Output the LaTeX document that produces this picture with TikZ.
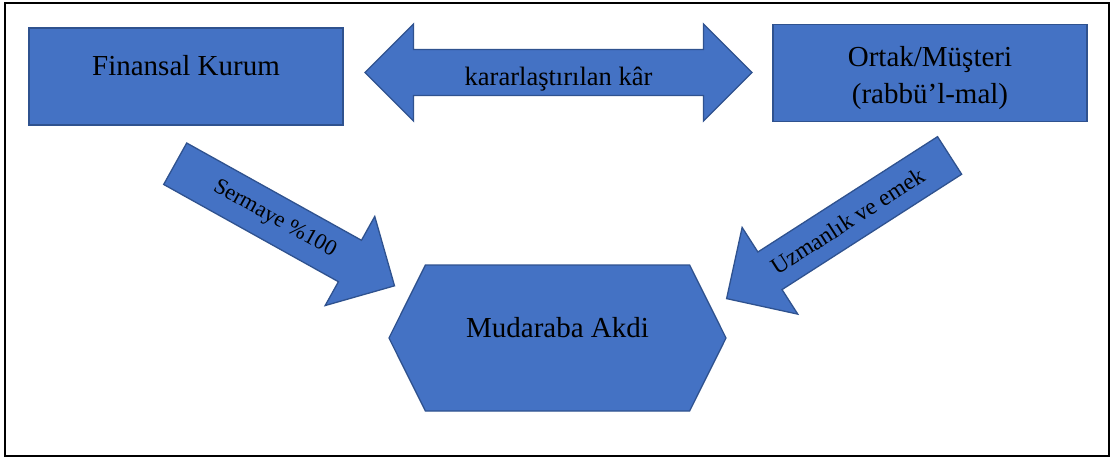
\documentclass[tikz,border=0pt]{standalone}
\usepackage{fontspec}
\setmainfont{Liberation Serif}
\usepackage{tikz}
\usetikzlibrary{shapes.arrows,shapes.symbols}
\definecolor{boxblue}{HTML}{4472C4}
\definecolor{boxedge}{HTML}{2F528F}
\tikzstyle{blk}=[fill=boxblue,draw=boxedge,line width=1.3pt,text=black]
\tikzstyle{box}=[blk,rectangle,minimum width=314pt,minimum height=97pt,font=\fontsize{29}{37}\selectfont,align=center]
\tikzstyle{flow}=[blk,single arrow,single arrow head extend=16pt,minimum width=102pt,minimum height=251pt,font=\fontsize{22.5}{27}\selectfont]

\begin{document}
\begin{tikzpicture}[x=1pt,y=1pt]
\useasboundingbox (0,0) rectangle (1113,-459);
\draw [line width=2pt] (5,-3) rectangle (1109,-456);
\node (fin) [box,text height=20pt,text depth=22pt] at (186,-76.5) {Finansal Kurum};
\node (ortak) [box,text height=67pt,text depth=7pt] at (930,-73) {Ortak/Müşteri\\(rabbü’l-mal)};
\node (kar) [blk,double arrow,double arrow head extend=20pt,minimum width=97pt,minimum height=387pt,font=\fontsize{26.5}{30}\selectfont,text height=27pt,text depth=1pt] at (558.5,-72.5) {kararlaştırılan kâr};
\node (akd) [blk,signal,signal to=west and east,signal pointer angle=127,minimum width=337pt,minimum height=146pt,font=\fontsize{29}{34}\selectfont,text height=20pt,text depth=22pt] at (557.5,-338) {Mudaraba Akdi};
\node (sermaye) [flow,rotate=-29.1] at (274.5,-219) {Sermaye \%100};
\node (emek) [flow,shape border rotate=180,rotate=32.7,minimum height=265pt,minimum width=103pt,font=\fontsize{23.5}{28}\selectfont] at (847.5,-221) {Uzmanlık ve emek};
\end{tikzpicture}
\end{document}
